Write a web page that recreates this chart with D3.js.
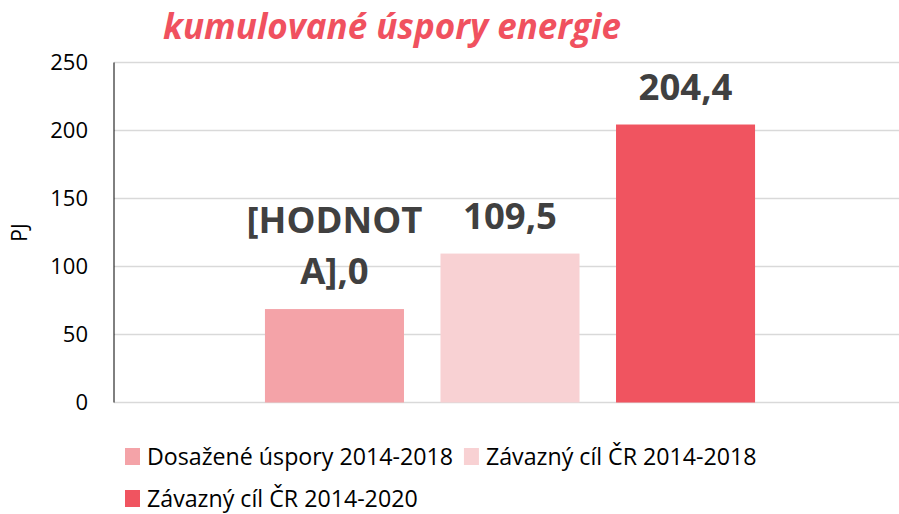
<!DOCTYPE html>
<html>
<head>
<meta charset="utf-8">
<script src="https://cdn.jsdelivr.net/npm/d3@7"></script>
<style>
  body { margin: 0; background: #fff; }
  svg { font-family: "Open Sans", sans-serif; }
</style>
</head>
<body>
<div id="chart"></div>
<script>
// Data
const category = ["kumulované úspory energie"];
const series = [
  "Dosažené úspory 2014-2018",
  "Závazný cíl ČR 2014-2018",
  "Závazný cíl ČR 2014-2020",
];
const values = [68.7, 109.5, 204.4];
// first label is a broken field reference in the source chart
const labels = [["[HODNOT", "A],0"], ["109,5"], ["204,4"]];
const colors = ["#F4A3A8", "#F8D1D3", "#F05460"];
const yTicks = [0, 50, 100, 150, 200, 250];

const width = 899, height = 514;
const margin = { top: 62.5, right: -7, bottom: 111.5, left: 114 };

const svg = d3.select("#chart").append("svg")
  .attr("width", width)
  .attr("height", height);

const y = d3.scaleLinear()
  .domain([0, 250])
  .range([height - margin.bottom, margin.top]);

const x0 = d3.scaleBand()
  .domain(category)
  .range([margin.left, width - margin.right])
  .paddingInner(0)
  .paddingOuter(0.308);

const x1 = d3.scaleBand()
  .domain(series)
  .range([0, x0.bandwidth()])
  .paddingInner(0.208)
  .paddingOuter(0);

// Gridlines
svg.append("g")
  .selectAll("line")
  .data(yTicks)
  .join("line")
  .attr("x1", margin.left)
  .attr("x2", width)
  .attr("y1", d => y(d))
  .attr("y2", d => y(d))
  .attr("stroke", "#D9D9D9")
  .attr("stroke-width", 1.5);

// Y axis line
svg.append("line")
  .attr("x1", margin.left).attr("x2", margin.left)
  .attr("y1", y(250)).attr("y2", y(0))
  .attr("stroke", "#000")
  .attr("stroke-width", 1);

// Y tick labels
svg.append("g")
  .selectAll("text")
  .data(yTicks)
  .join("text")
  .attr("x", 88)
  .attr("y", d => y(d))
  .attr("dy", "0.35em")
  .attr("text-anchor", "end")
  .attr("font-size", 22)
  .attr("fill", "#000")
  .text(d => d);

// Y axis title
svg.append("text")
  .attr("transform", `translate(27,${(y(0) + y(250)) / 2}) rotate(-90)`)
  .attr("text-anchor", "middle")
  .attr("font-size", 21)
  .attr("fill", "#000")
  .text("PJ");

// Bars
svg.append("g")
  .selectAll("rect")
  .data(series)
  .join("rect")
  .attr("x", d => x0(category[0]) + x1(d))
  .attr("y", (d, i) => y(values[i]))
  .attr("width", x1.bandwidth())
  .attr("height", (d, i) => y(0) - y(values[i]))
  .attr("fill", (d, i) => colors[i]);

// Data labels
const lineH = 51;
svg.append("g")
  .selectAll("text")
  .data(series)
  .join("text")
  .attr("x", d => x0(category[0]) + x1(d) + x1.bandwidth() / 2)
  .attr("y", (d, i) => y(values[i]) - 25 - (labels[i].length - 1) * lineH)
  .attr("text-anchor", "middle")
  .attr("font-size", 36.5)
  .attr("font-weight", "bold")
  .attr("fill", "#404040")
  .each(function (d, i) {
    const t = d3.select(this);
    const x = t.attr("x");
    labels[i].forEach((s, j) => {
      t.append("tspan").attr("x", x).attr("dy", j ? lineH : 0).text(s);
    });
  });

// Title
svg.append("text")
  .attr("x", 392)
  .attr("y", 39)
  .attr("text-anchor", "middle")
  .attr("font-size", 35)
  .attr("font-weight", "bold")
  .attr("font-style", "italic")
  .attr("fill", "#F0515F")
  .text(category[0]);

// Legend
const legend = svg.append("g").attr("font-size", 23.2);
const rows = [[0, 1], [2]];
rows.forEach((row, r) => {
  let lx = 125;
  const ly = 457 + r * 42;
  row.forEach(i => {
    legend.append("rect")
      .attr("x", lx).attr("y", ly - 9)
      .attr("width", 15).attr("height", 17)
      .attr("fill", colors[i]);
    const t = legend.append("text")
      .attr("x", lx + 22).attr("y", ly)
      .attr("dy", "0.35em")
      .attr("fill", "#000")
      .text(series[i]);
    lx += 22 + t.node().getComputedTextLength() + 11;
  });
});
</script>
</body>
</html>
